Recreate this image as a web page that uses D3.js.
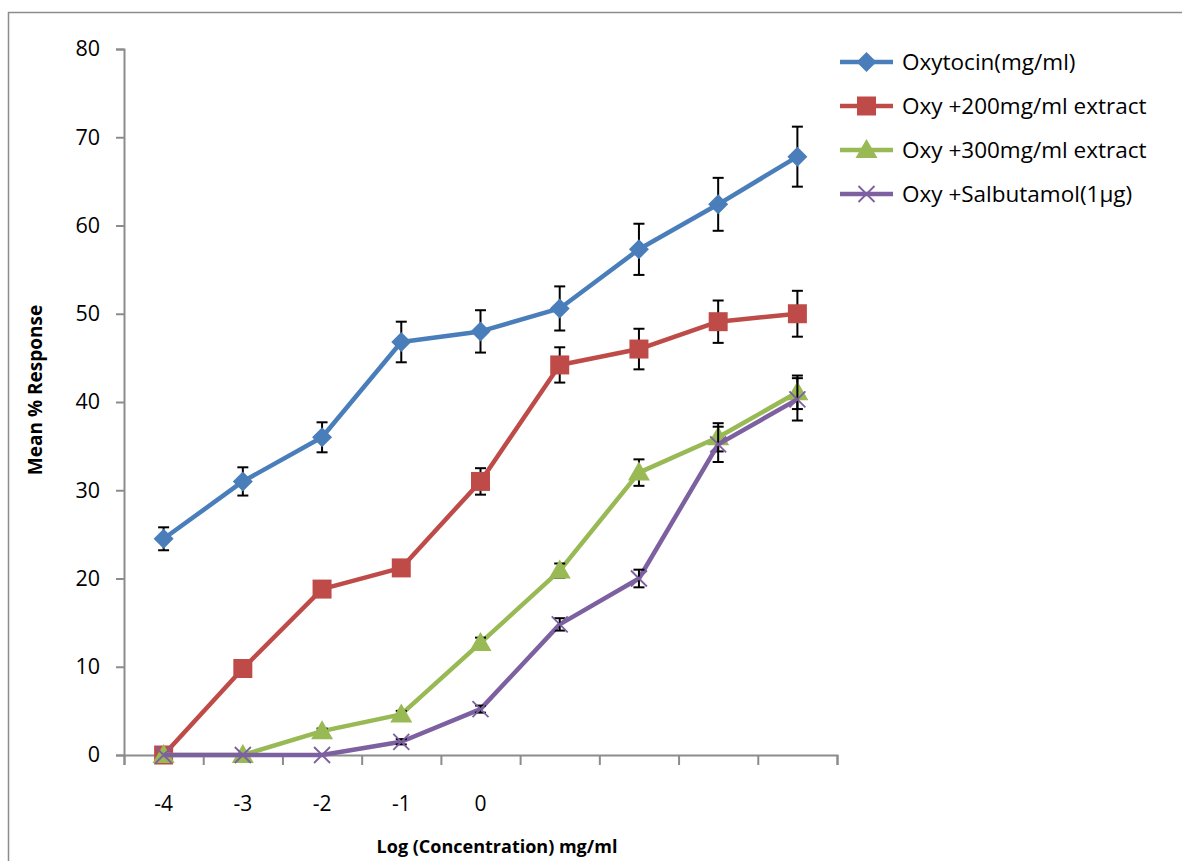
<!DOCTYPE html>
<html>
<head>
<meta charset="utf-8">
<script src="https://cdn.jsdelivr.net/npm/d3@7"></script>
<style>
  body { margin: 0; background: #fff; }
  text { font-family: "Open Sans", "Noto Sans", sans-serif; }
</style>
</head>
<body>
<script>
var xLabels = ['-4', '-3', '-2', '-1', '0', '', '', '', ''];
var seriesNames = ['Oxytocin(mg/ml)', 'Oxy +200mg/ml extract', 'Oxy +300mg/ml extract', 'Oxy +Salbutamol(1\u00b5g)'];
var oxytocin = [24.5, 31, 36, 46.8, 48, 50.6, 57.3, 62.4, 67.8];
var oxytocinErr = [1.3, 1.6, 1.7, 2.3, 2.4, 2.5, 2.9, 3.0, 3.4];
var oxy200 = [0, 9.8, 18.8, 21.2, 31, 44.2, 46, 49.1, 50];
var oxy200Err = [0, 0.4, 0.4, 0.5, 1.5, 2.0, 2.3, 2.4, 2.6];
var oxy300 = [0, 0, 2.7, 4.6, 12.7, 20.9, 32, 36, 41.1];
var oxy300Err = [0, 0, 0.3, 0.4, 0.6, 0.8, 1.5, 1.6, 1.9];
var salbutamol = [0, 0, 0, 1.5, 5.2, 14.8, 20, 35.2, 40.3];
var salbutamolErr = [0, 0, 0, 0.3, 0.4, 0.7, 1.0, 2.0, 2.4];
var yTicks = [0, 10, 20, 30, 40, 50, 60, 70, 80];

var colors = ['#4a7ebb', '#be4b48', '#98b954', '#7d60a0'];
var symbols = ['diamond', 'square', 'triangle', 'cross'];
var series = [
  { name: seriesNames[0], values: oxytocin, err: oxytocinErr },
  { name: seriesNames[1], values: oxy200, err: oxy200Err },
  { name: seriesNames[2], values: oxy300, err: oxy300Err },
  { name: seriesNames[3], values: salbutamol, err: salbutamolErr }
];

var W = 1182, H = 861;
var svg = d3.select('body').append('svg').attr('width', W).attr('height', H);

// outer frame of the chart object
svg.append('rect')
    .attr('x', 8.5).attr('y', 12.5)
    .attr('width', W + 20).attr('height', H + 20)
    .attr('fill', 'none').attr('stroke', '#8c8c8c').attr('stroke-width', 1.5);

var margin = { left: 124, top: 49, right: 837, bottom: 755 };

var x = d3.scaleLinear().domain([0, xLabels.length]).range([margin.left, margin.right]);
var y = d3.scaleLinear().domain([0, 80]).range([margin.bottom, margin.top]);

// y axis
var yAxis = svg.append('g')
    .attr('transform', 'translate(' + margin.left + ',0)')
    .call(d3.axisLeft(y).tickValues(yTicks).tickSize(8).tickPadding(16));
yAxis.selectAll('text').attr('font-size', 21.5).attr('fill', '#000')
    .style('font-family', '"Open Sans", sans-serif');

// x axis: ticks at category boundaries, labels at centres
var xAxis = svg.append('g')
    .attr('transform', 'translate(0,' + margin.bottom + ')')
    .call(d3.axisBottom(x).tickValues(d3.range(0, xLabels.length + 1)).tickSize(10).tickFormat(''));

[yAxis, xAxis].forEach(function(a) {
  a.select('.domain').attr('stroke', '#8c8c8c').attr('stroke-width', 2);
  a.selectAll('.tick line').attr('stroke', '#8c8c8c').attr('stroke-width', 2);
});

svg.append('g').selectAll('text')
    .data(xLabels)
    .enter().append('text')
    .attr('x', function(d, i) { return x(i + 0.5); })
    .attr('y', 811)
    .attr('text-anchor', 'middle')
    .attr('font-size', 21)
    .text(function(d) { return d; });

// axis titles
svg.append('text')
    .attr('transform', 'translate(42,' + 390 + ') rotate(-90)')
    .attr('text-anchor', 'middle')
    .attr('font-size', 19).attr('font-weight', 'bold')
    .text('Mean % Response');
svg.append('text')
    .attr('x', 497).attr('y', 853)
    .attr('text-anchor', 'middle')
    .attr('font-size', 18).attr('font-weight', 'bold')
    .text('Log (Concentration) mg/ml');

function drawMarker(g, type, color) {
  if (type === 'cross') {
    g.append('path').attr('d', 'M-8,-8L8,8M-8,8L8,-8')
        .attr('stroke', color).attr('stroke-width', 1.8).attr('fill', 'none');
  } else if (type === 'diamond') {
    g.append('path').attr('d', 'M0,-10L10,0L0,10L-10,0Z').attr('fill', color);
  } else if (type === 'square') {
    g.append('path').attr('d', 'M-9.5,-9.5H9.5V9.5H-9.5Z').attr('fill', color);
  } else {
    g.append('path').attr('d', 'M0,-11L11,8L-11,8Z').attr('fill', color);
  }
}

var line = d3.line()
    .x(function(d, i) { return x(i + 0.5); })
    .y(function(d) { return y(d); });

// lines first, error bars, then markers per series
series.forEach(function(s, k) {
  var g = svg.append('g');
  g.append('path')
      .datum(s.values)
      .attr('d', line)
      .attr('fill', 'none')
      .attr('stroke', colors[k])
      .attr('stroke-width', 4.5)
      .attr('stroke-linejoin', 'round');

  var eb = g.selectAll('.err')
      .data(s.values.map(function(v, i) { return { v: v, e: s.err[i], i: i }; })
              .filter(function(d) { return d.e > 0; }))
      .enter().append('g')
      .attr('stroke', '#000').attr('stroke-width', 2);
  eb.append('line')
      .attr('x1', function(d) { return x(d.i + 0.5); })
      .attr('x2', function(d) { return x(d.i + 0.5); })
      .attr('y1', function(d) { return y(d.v - d.e); })
      .attr('y2', function(d) { return y(d.v + d.e); });
  [-1, 1].forEach(function(sign) {
    eb.append('line')
        .attr('x1', function(d) { return x(d.i + 0.5) - 5.5; })
        .attr('x2', function(d) { return x(d.i + 0.5) + 5.5; })
        .attr('y1', function(d) { return y(d.v + sign * d.e); })
        .attr('y2', function(d) { return y(d.v + sign * d.e); });
  });

  s.values.forEach(function(v, i) {
    var m = g.append('g').attr('transform', 'translate(' + x(i + 0.5) + ',' + y(v) + ')');
    drawMarker(m, symbols[k], colors[k]);
  });
});

// legend
var legend = svg.append('g');
series.forEach(function(s, k) {
  var ly = 62 + k * 44;
  var lg = legend.append('g');
  lg.append('line')
      .attr('x1', 840).attr('x2', 893).attr('y1', ly).attr('y2', ly)
      .attr('stroke', colors[k]).attr('stroke-width', 4.5);
  var m = lg.append('g').attr('transform', 'translate(866.5,' + ly + ')');
  drawMarker(m, symbols[k], colors[k]);
  lg.append('text')
      .attr('x', 902).attr('y', ly + 8)
      .attr('font-size', 22.5)
      .text(s.name);
});
</script>
</body>
</html>
